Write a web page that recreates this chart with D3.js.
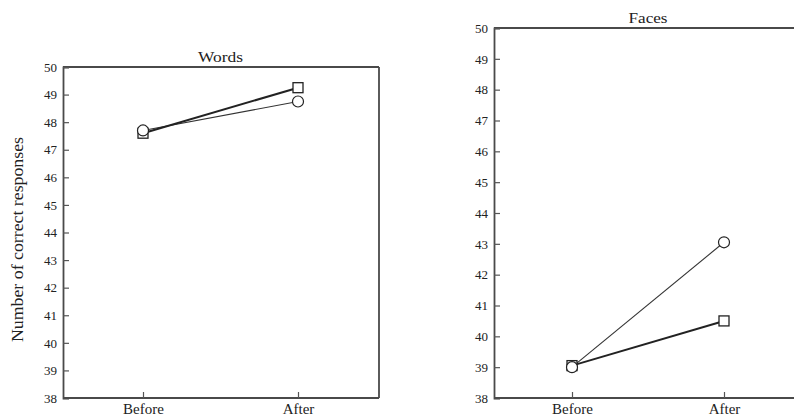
<!DOCTYPE html>
<html><head><meta charset="utf-8">
<script src="https://cdn.jsdelivr.net/npm/d3@7"></script>
<style>html,body{margin:0;padding:0;background:#fff;overflow:hidden}</style>
</head><body>
<script>
const categories = ["Before", "After"];
const yTicks = [38,39,40,41,42,43,44,45,46,47,48,49,50];
const wordsSquare = [47.6, 49.25];
const wordsCircle = [47.7, 48.75];
const facesSquare = [39.05, 40.5];
const facesCircle = [39.0, 43.05];
const titles = ["Words", "Faces"];
const yLabel = "Number of correct responses";

const W = 794, H = 419;
const svg = d3.select("body").append("svg").attr("width", W).attr("height", H)
  .style("font-family", "'Liberation Serif', 'DejaVu Serif', serif");

const panels = [
  {title: titles[0], titleW: 45, sq: wordsSquare, ci: wordsCircle, left: 63, right: 379, top: 67, bottom: 398, x0: 143, x1: 298, rightBorder: true, ylab: true},
  {title: titles[1], titleW: 39, sq: facesSquare, ci: facesCircle, left: 494, right: 804, top: 28, bottom: 398, x0: 572, x1: 724, rightBorder: false, ylab: false}
];

panels.forEach(p => {
  const g = svg.append("g");
  const y = d3.scaleLinear().domain([38, 50]).range([p.bottom, p.top]);
  const x = d3.scalePoint().domain(categories).range([p.x0, p.x1]);

  const stroke = "#4a4a4a";
  g.append("line").attr("x1", p.left).attr("x2", p.right).attr("y1", p.top).attr("y2", p.top).attr("stroke", stroke).attr("stroke-width", 1.8);
  if (p.rightBorder) g.append("line").attr("x1", p.right).attr("x2", p.right).attr("y1", p.top).attr("y2", p.bottom).attr("stroke", stroke).attr("stroke-width", 1.8);

  const ya = d3.axisLeft(y).tickValues(yTicks).tickSize(-6).tickPadding(6).tickFormat(d3.format("d"));
  const yg = g.append("g").attr("transform", `translate(${p.left},0)`).call(ya);
  yg.select(".domain").attr("stroke", stroke).attr("stroke-width", 1.8);
  yg.selectAll(".tick line").attr("stroke", "#555").attr("stroke-width", 1.2);
  yg.selectAll(".tick text").attr("font-size", 13).attr("fill", "#222").attr("font-family", "'Liberation Serif', serif");

  const xa = d3.axisBottom(x).tickSize(-6).tickPadding(5);
  const xg = g.append("g").attr("transform", `translate(0,${p.bottom})`).call(xa);
  xg.select(".domain").attr("d", `M${p.left},0H${p.right}`).attr("stroke", stroke).attr("stroke-width", 1.8);
  xg.selectAll(".tick line").attr("stroke", "#555").attr("stroke-width", 1.2);
  xg.selectAll(".tick text").attr("font-size", 15).attr("fill", "#222").attr("font-family", "'Liberation Serif', serif");

  g.append("text").attr("x", (p.x0 + p.x1) / 2).attr("y", p.top - 5).attr("text-anchor", "middle")
    .attr("font-size", 15).attr("fill", "#222").attr("textLength", p.titleW).attr("lengthAdjust", "spacingAndGlyphs").text(p.title);

  const line = d3.line().x((d, i) => x(categories[i])).y(d => y(d));
  g.append("path").datum(p.ci).attr("d", line).attr("fill", "none").attr("stroke", "#333").attr("stroke-width", 1.1);
  g.append("path").datum(p.sq).attr("d", line).attr("fill", "none").attr("stroke", "#222").attr("stroke-width", 2);

  g.selectAll(".sq").data(p.sq).join("rect")
    .attr("x", (d, i) => x(categories[i]) - 5).attr("y", d => y(d) - 5)
    .attr("width", 10).attr("height", 10).attr("fill", "#fff").attr("stroke", "#222").attr("stroke-width", 1.3);
  g.selectAll(".ci").data(p.ci).join("circle")
    .attr("cx", (d, i) => x(categories[i])).attr("cy", d => y(d)).attr("r", 5.5)
    .attr("fill", "#fff").attr("stroke", "#222").attr("stroke-width", 1.2);

  if (p.ylab) {
    g.append("text").attr("transform", `translate(23,${(p.top + p.bottom) / 2 + 7}) rotate(-90)`)
      .attr("text-anchor", "middle").attr("font-size", 16).attr("fill", "#222")
      .attr("textLength", 205).attr("lengthAdjust", "spacingAndGlyphs").text(yLabel);
  }
});
</script>
</body></html>
